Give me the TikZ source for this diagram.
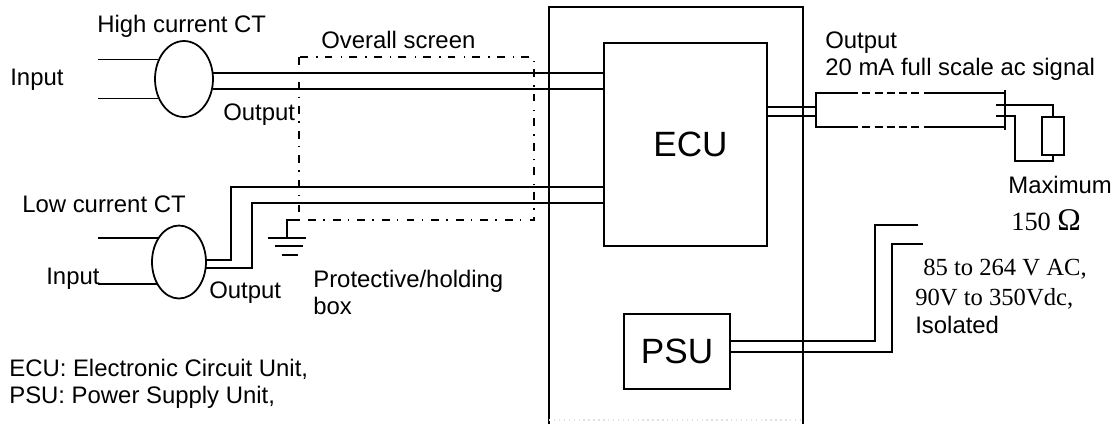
\documentclass[tikz,border=0pt]{standalone}
\usepackage{fontspec}
\setmainfont{Liberation Sans}
\newfontfamily\serifdigits{Liberation Serif}
\usetikzlibrary{shapes.geometric}
\tikzset{
  wire/.style={line width=1pt},
  ct/.style={draw,ellipse,line width=1pt,inner sep=0pt},
  unit/.style={draw,rectangle,line width=1.1pt,inner sep=0pt,font=\fontsize{20}{24}\selectfont},
  txt/.style={anchor=base west,inner sep=0pt,font=\fontsize{13.6}{16}\selectfont},
  serif/.style={txt,font=\fontsize{14}{16}\selectfont\serifdigits},
  screen/.style={line width=1pt,dash pattern=on 4.5pt off 4pt on 0.8pt off 4.7pt}
}
\begin{document}
\begin{tikzpicture}[x=0.02cm,y=-0.02cm]
  \useasboundingbox (0,0) rectangle (1117,424);
  % enclosure, open at the bottom
  \draw[line width=1.1pt] (549,424) |- (803,7) -- (803,424);
  \draw[black!12,line width=0.8pt,dotted] (549,420) -- (803,420);
  % current transformers and units
  \node[ct,minimum width=1.16cm,minimum height=1.52cm] (hct) at (184,79) {};
  \node[ct,minimum width=1.08cm,minimum height=1.46cm] (lct) at (179,262) {};
  \node[unit,minimum width=3.26cm,minimum height=4.06cm] (ecu) at (685.5,144.5) {\kern0.2cm ECU};
  \node[unit,minimum width=2.12cm,minimum height=1.5cm] (psu) at (677,351.5) {\raisebox{-0.07cm}{PSU}};
  \coordinate (infree) at (98,0);
  % inputs
  \foreach \ang in {143,217} \draw[wire] (hct.\ang) -- (hct.\ang -| infree);
  \foreach \ang in {132,225} \draw[wire] (lct.\ang) -- (lct.\ang -| infree);
  % outputs to the ECU
  \foreach \ang in {12,-19} \draw[wire] (hct.\ang) -- (hct.\ang -| ecu.west);
  \coordinate (lowa) at (231,187);
  \coordinate (lowb) at (252,203);
  \draw[wire] (lct.4) -| (lowa) -- (lowa -| ecu.west);
  \draw[wire] (lct.-13) -| (lowb) -- (lowb -| ecu.west);
  % overall screen and earth
  \coordinate (scra) at (299,57);
  \coordinate (scrb) at (534,220);
  \draw[screen] (scra) rectangle (scrb);
  \coordinate (gnd) at (287,238);
  \draw[wire] (scra |- scrb) -| (gnd);
  \draw[wire] (268,238) -- (306,238);
  \draw[wire] (275,246) -- (303,246);
  \draw[wire] (282,255) -- (298,255);
  % output cable and load
  \coordinate (cabnw) at (816,93);
  \coordinate (cabse) at (1005,127);
  \draw[wire] (ecu.east |- 0,107) ++(-2,0) -- (cabnw |- 0,107);
  \draw[wire] (ecu.east |- 0,116) ++(-2,0) -- (cabnw |- 0,116);
  \draw[wire] (850,93) -- (cabnw) -- (cabnw |- cabse) -- (850,127);
  \draw[wire] (926,93) -- (cabse |- cabnw) -- (cabse) -- (926,127);
  \draw[wire,dash pattern=on 4.5pt off 2.5pt] (850,93) -- (926,93);
  \draw[wire,dash pattern=on 4.5pt off 2.5pt] (850,127) -- (926,127);
  \draw[wire] (1005,90) -- (1005,130);
  \node[draw,rectangle,line width=1pt,inner sep=0pt,minimum width=0.43cm,minimum height=0.76cm] (load) at (1053,136) {};
  \draw[wire] (996,105) -| (load.north);
  \draw[wire] (996,116) -- (1015,116) |- (1053,161) -- (load.south);
  % supply wires
  \coordinate (supa) at (918,225);
  \coordinate (supb) at (923,244);
  \draw[wire] (psu.east |- 0,341) -- (875,341) |- (supa);
  \draw[wire] (psu.east |- 0,352) -- (892,352) |- (supb);
  % labels
  \node[txt] (t1) at (97,32) {High current CT};
  \node[txt] (t2) at (321,48) {Overall screen};
  \node[txt] (t3) at (10,85) {Input};
  \node[txt] (t4) at (223,120) {Output};
  \node[txt] (t5) at (22,212) {Low current CT};
  \node[txt] (t6) at (46,284) {Input};
  \node[txt] (t7) at (209,298) {Output};
  \node[txt] (t8) at (313,287) {Protective/holding};
  \node[txt] (t9) at (313,314) {box};
  \node[txt] (t10) at (9,376) {ECU: Electronic Circuit Unit,};
  \node[txt] (t11) at (9,403) {PSU: Power Supply Unit,};
  \node[txt] (t12) at (825,48) {Output};
  \node[txt] (t13) at (825,75) {20 mA full scale ac signal};
  \node[txt] (t14) at (1008,193) {Maximum};
  \node[serif] (t15) at (1011,230) {\fontsize{15}{16}\selectfont 150 {\fontsize{18}{20}\selectfont Ω}};
  \node[serif] (t16) at (923,275) {85 to 264 V AC,};
  \node[serif] (t17) at (915,305) {90V to 350Vdc,};
  \node[txt] (t18) at (915,333) {Isolated};
\end{tikzpicture}
\end{document}
